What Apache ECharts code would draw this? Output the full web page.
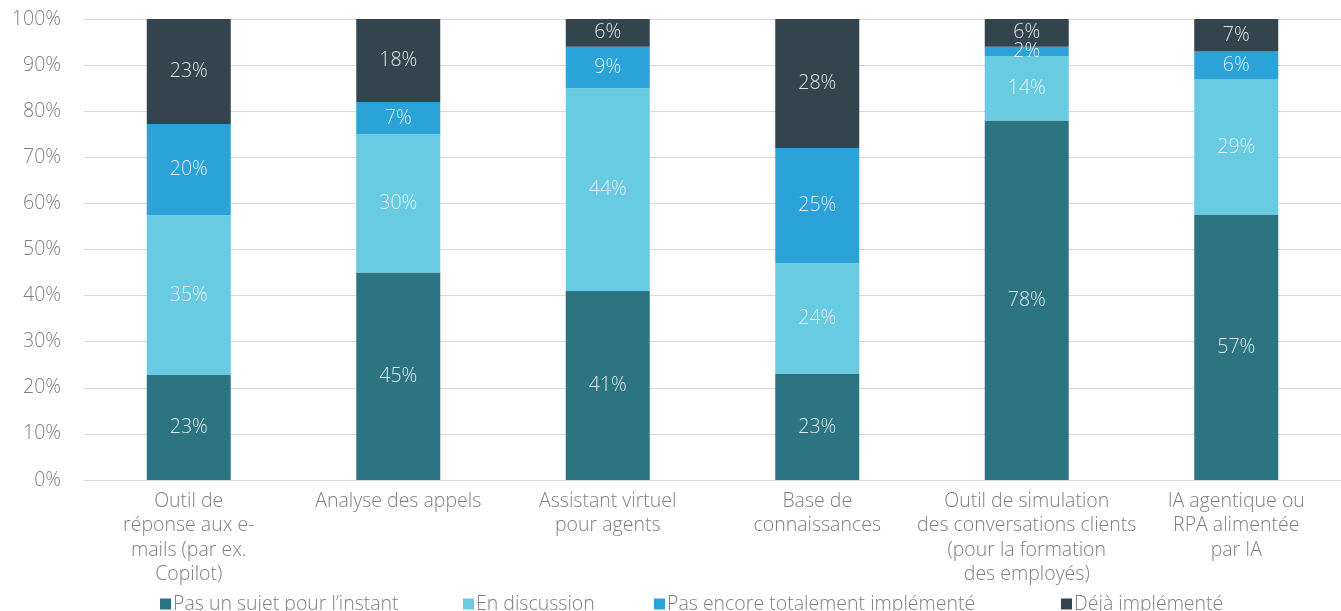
<!DOCTYPE html>
<html>
<head>
    <meta charset="utf-8">
    <title>Adoption des outils IA</title>
    <script src="https://cdn.jsdelivr.net/npm/echarts@6/dist/echarts.min.js"></script>
    <style>
        html, body { margin: 0; padding: 0; background: #fff; }
        #main { width: 1341px; height: 611px; }
    </style>
</head>
<body>
<div id="main"></div>
<script>
    // categories (x axis)
    var categories = [
        'Outil de\nréponse aux e-\nmails (par ex.\nCopilot)',
        'Analyse des appels',
        'Assistant virtuel\npour agents',
        'Base de\nconnaissances',
        'Outil de simulation\ndes conversations clients\n(pour la formation\ndes employés)',
        'IA agentique ou\nRPA alimentée\npar IA'
    ];
    var seriesNames = ['Pas un sujet pour l’instant', 'En discussion', 'Pas encore totalement implémenté', 'Déjà implémenté'];
    // percentages as printed on the bars
    var pasUnSujet  = [23, 45, 41, 23, 78, 57];
    var enDiscussion = [35, 30, 44, 24, 14, 29];
    var pasEncore   = [20, 7, 9, 25, 2, 6];
    var dejaImpl    = [23, 18, 6, 28, 6, 7];
    var colors = ['#2c7482', '#68cbe2', '#2ca3d8', '#33444f'];

    var allValues = [pasUnSujet, enDiscussion, pasEncore, dejaImpl];
    // 100% stacked: normalise each category to its total
    var totals = categories.map(function (c, i) {
        return allValues.reduce(function (s, arr) { return s + arr[i]; }, 0);
    });

    var font = '"Open Sans"';
    var fs = 19.5;
    var myChart = echarts.init(document.getElementById('main'));

    var series = allValues.map(function (arr, k) {
        return {
            name: seriesNames[k],
            type: 'bar',
            stack: 'total',
            barWidth: 84,
            itemStyle: { color: colors[k] },
            label: {
                show: true,
                position: 'inside',
                color: 'rgba(235,242,245,0.92)',
                fontFamily: font,
                fontWeight: 300,
                fontSize: fs,
                formatter: function (p) { return arr[p.dataIndex] + '%'; }
            },
            data: arr.map(function (v, i) { return v / totals[i] * 100; })
        };
    });

    var legendLeft = [155, 458, 649, 1056];
    var legends = seriesNames.map(function (n, k) {
        return {
            data: [n],
            left: legendLeft[k],
            top: 589,
            itemWidth: 11,
            itemHeight: 11,
            itemGap: 0,
            icon: 'rect',
            textStyle: { color: '#7f7f7f', fontFamily: font, fontWeight: 300, fontSize: fs, padding: [0, 0, 0, -3] }
        };
    });

    myChart.setOption({
        animation: false,
        legend: legends,
        grid: { left: 84, right: 0, top: 19, bottom: 131 },
        xAxis: {
            type: 'category',
            data: categories,
            axisLine: { lineStyle: { color: '#d9d9d9', width: 1 } },
            axisTick: { show: false },
            axisLabel: {
                color: '#7f7f7f',
                fontFamily: font,
                fontWeight: 300,
                fontSize: fs,
                lineHeight: 24.5,
                margin: 9,
                interval: 0
            }
        },
        yAxis: {
            type: 'value',
            min: 0,
            max: 100,
            interval: 10,
            axisLine: { show: false },
            axisTick: { show: false },
            splitLine: { lineStyle: { color: '#d9d9d9', width: 1 } },
            axisLabel: {
                color: '#7f7f7f',
                fontFamily: font,
                fontWeight: 300,
                fontSize: fs,
                margin: 23,
                formatter: '{value}%'
            }
        },
        series: series
    });
</script>
</body>
</html>
